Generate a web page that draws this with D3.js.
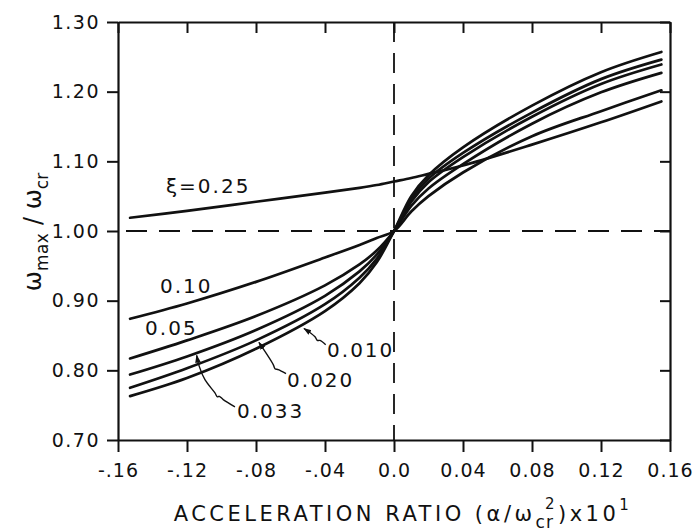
<!DOCTYPE html>
<html><head><meta charset="utf-8">
<script src="https://cdn.jsdelivr.net/npm/d3@7"></script>
<style>
body{margin:0;background:#fff;}
svg{display:block;}
text{font-family:"DejaVu Sans",sans-serif;fill:#111;}
</style></head>
<body>
<svg id="chart" width="694" height="532"></svg>
<script>
// ---- data ----
const xValues = [-0.153, -0.12, -0.08, -0.04, -0.02, -0.01, 0, 0.01, 0.02, 0.04, 0.08, 0.12, 0.155];
const xi025  = [1.019, 1.029, 1.042, 1.055, 1.062, 1.066, 1.071, 1.076, 1.082, 1.094, 1.124, 1.156, 1.186];
const xi010  = [0.874, 0.896, 0.927, 0.962, 0.980, 0.990, 1.000, 1.028, 1.050, 1.084, 1.136, 1.172, 1.202];
const xi005  = [0.817, 0.843, 0.878, 0.922, 0.952, 0.972, 1.000, 1.036, 1.061, 1.096, 1.154, 1.199, 1.227];
const xi0033 = [0.794, 0.820, 0.858, 0.907, 0.942, 0.966, 1.000, 1.042, 1.070, 1.106, 1.164, 1.211, 1.239];
const xi0020 = [0.775, 0.803, 0.843, 0.895, 0.933, 0.960, 1.000, 1.046, 1.075, 1.112, 1.170, 1.218, 1.246];
const xi0010 = [0.763, 0.789, 0.831, 0.885, 0.925, 0.955, 1.000, 1.050, 1.080, 1.120, 1.180, 1.228, 1.257];
const seriesList = [xi025, xi010, xi005, xi0033, xi0020, xi0010];

const xTicks = [-0.16, -0.12, -0.08, -0.04, 0, 0.04, 0.08, 0.12, 0.16];
const xTickLabels = ["-.16", "-.12", "-.08", "-.04", "0.0", "0.04", "0.08", "0.12", "0.16"];
const yTicks = [0.70, 0.80, 0.90, 1.00, 1.10, 1.20, 1.30];
const yTickLabels = ["0.70", "0.80", "0.90", "1.00", "1.10", "1.20", "1.30"];

// curve labels [text, x, y] in data units
const curveLabels = [
  ["\u03BE=0.25", -0.1322, 1.0544],
  ["0.10", -0.1357, 0.9112],
  ["0.05", -0.1443, 0.8511],
  ["0.033", -0.0910, 0.7322],
  ["0.020", -0.0620, 0.7766],
  ["0.010", -0.0388, 0.8196]
];
// leader arrows in data units (last point = tip)
const arrow0010 = [[-0.0396,0.8367],[-0.0429,0.8429],[-0.0445,0.8429],[-0.0458,0.8482],[-0.0522,0.8600]];
const arrow0020 = [[-0.0626,0.7952],[-0.0671,0.8009],[-0.0690,0.8024],[-0.0700,0.8082],[-0.0783,0.8400]];
const arrow0033 = [[-0.0922,0.7475],[-0.0990,0.7580],[-0.1013,0.7627],[-0.1024,0.7619],[-0.1038,0.7676],[-0.1096,0.7866],[-0.1129,0.8057],[-0.1144,0.8215]];
const arrows = [arrow0010, arrow0020, arrow0033];

// ---- drawing ----
const svg = d3.select("#chart");
const x = d3.scaleLinear().domain([-0.16, 0.16]).range([118, 670]);
const y = d3.scaleLinear().domain([0.70, 1.30]).range([440, 22]);
const ink = "#111";

svg.append("defs").append("marker")
  .attr("id","ah").attr("viewBox","0 0 10 10").attr("refX",9).attr("refY",5)
  .attr("markerWidth",8).attr("markerHeight",8).attr("markerUnits","userSpaceOnUse")
  .attr("orient","auto")
  .append("path").attr("d","M0,1.5 L10,5 L0,8.5 Z").attr("fill",ink);

// dashed reference lines
svg.append("line").attr("x1", x(-0.16)+8).attr("x2", x(0.16)).attr("y1", y(1.0)).attr("y2", y(1.0))
  .attr("stroke", ink).attr("stroke-width", 1.8).attr("stroke-dasharray", "21,12");
svg.append("line").attr("x1", x(0)).attr("x2", x(0)).attr("y1", y(1.30)).attr("y2", y(0.70))
  .attr("stroke", ink).attr("stroke-width", 1.8).attr("stroke-dasharray", "20,11");

// axes (frame)
const axL = svg.append("g").attr("transform", `translate(${x(-0.16)},0)`)
  .call(d3.axisLeft(y).tickValues(yTicks).tickFormat((d,i)=>yTickLabels[i]).tickSize(11).tickPadding(7).tickSizeOuter(0));
const axB = svg.append("g").attr("transform", `translate(0,${y(0.70)})`)
  .call(d3.axisBottom(x).tickValues(xTicks).tickFormat((d,i)=>xTickLabels[i]).tickSize(12).tickPadding(12).tickSizeOuter(0));
const axT = svg.append("g").attr("transform", `translate(0,${y(1.30)})`)
  .call(d3.axisBottom(x).tickValues(xTicks).tickFormat("").tickSize(11).tickSizeOuter(0));
const axR = svg.append("g").attr("transform", `translate(${x(0.16)},0)`)
  .call(d3.axisRight(y).tickValues(yTicks).tickFormat("").tickSize(-10).tickSizeOuter(0));
[axL, axB, axT, axR].forEach(g => {
  g.selectAll(".domain").attr("stroke", ink).attr("stroke-width", 2.2);
  g.selectAll(".tick line").attr("stroke", ink).attr("stroke-width", 2);
  g.selectAll("text").attr("fill", ink).style("font-family", '"DejaVu Sans",sans-serif');
});
axL.selectAll("text").attr("font-size", 19).attr("letter-spacing", 1.5);
axB.selectAll("text").attr("font-size", 19).attr("letter-spacing", 1);

// curves
const line = d3.line().x((d,i)=>x(xValues[i])).y(d=>y(d)).curve(d3.curveCatmullRom.alpha(0.5));
svg.append("g").selectAll("path").data(seriesList).join("path")
  .attr("d", d=>line(d)).attr("fill","none").attr("stroke", ink)
  .attr("stroke-width", 2.7).attr("stroke-linecap","round");

// leader arrows
const aline = d3.line().x(d=>x(d[0])).y(d=>y(d[1])).curve(d3.curveCatmullRom);
svg.append("g").selectAll("path").data(arrows).join("path")
  .attr("d", d=>aline(d)).attr("fill","none").attr("stroke", ink).attr("stroke-width", 1.4)
  .attr("marker-end","url(#ah)");

// curve labels
svg.append("g").selectAll("text").data(curveLabels).join("text")
  .attr("x", d=>x(d[1])).attr("y", d=>y(d[2])).text(d=>d[0])
  .attr("font-size", 20).attr("letter-spacing", 2);

// y axis title
const yt = svg.append("text").attr("transform", "translate(41,232) rotate(-90)")
  .attr("text-anchor","middle").attr("font-size", 24);
yt.append("tspan").text("\u03C9");
yt.append("tspan").text("max").attr("font-size", 17).attr("dy", 7).attr("letter-spacing", 0.5);
yt.append("tspan").text(" / \u03C9").attr("dy", -7);
yt.append("tspan").text("cr").attr("font-size", 17).attr("dy", 7);

// x axis title
const xt = svg.append("text").attr("x", 403).attr("y", 521).attr("text-anchor","middle")
  .attr("font-size", 21).attr("letter-spacing", 3.5);
xt.append("tspan").text("ACCELERATION RATIO (\u03B1/\u03C9");
xt.append("tspan").text("cr").attr("font-size", 17).attr("dy", 7).attr("letter-spacing", 1);
xt.append("tspan").text("2").attr("font-size", 15).attr("dy", -19).attr("dx", -9);
xt.append("tspan").text(")x10").attr("dy", 12);
xt.append("tspan").text("1").attr("font-size", 15).attr("dy", -11);
</script>
</body></html>
